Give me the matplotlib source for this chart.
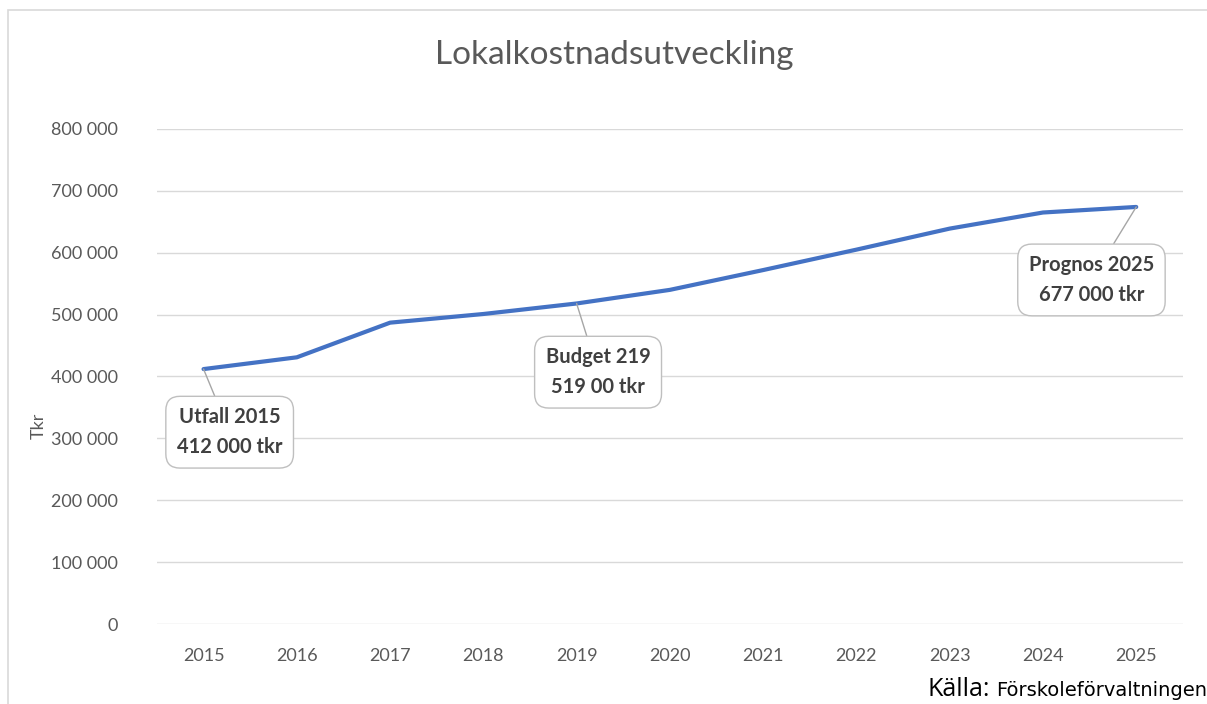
import matplotlib
matplotlib.use('Agg')
import matplotlib.pyplot as plt
from matplotlib.patches import Rectangle
from matplotlib.ticker import FuncFormatter

years = ['2015', '2016', '2017', '2018', '2019', '2020', '2021', '2022', '2023', '2024', '2025']
costs = [412000, 431000, 487000, 501000, 518000, 540000, 572000, 605000, 639000, 665000, 674000]
y_ticks = [0, 100000, 200000, 300000, 400000, 500000, 600000, 700000, 800000]

# callouts: (index of point, text, box centre in data coords)
callouts = [
    (0, 'Utfall 2015\n412 000 tkr', (0.28, 310000)),
    (4, 'Budget 219\n519 00 tkr', (4.23, 407000)),
    (10, 'Prognos 2025\n677 000 tkr', (9.52, 556000)),
]

plt.rcParams['font.family'] = ['Lato', 'DejaVu Sans']
grey = '#595959'

fig = plt.figure(figsize=(12.07, 7.04), dpi=100)
ax = fig.add_axes([0.130, 0.1136, 0.850, 0.7032])

x = list(range(len(years)))
ax.plot(x, costs, color='#4472C4', lw=3.0, solid_capstyle='round', zorder=3)

ax.set_xlim(-0.5, len(years) - 0.5)
ax.set_ylim(0, 800000)
ax.set_xticks(x)
ax.set_xticklabels(years)
ax.set_yticks(y_ticks)
ax.yaxis.set_major_formatter(FuncFormatter(lambda v, p: f'{int(v):,}'.replace(',', ' ')))
ax.tick_params(axis='both', length=0, labelsize=13, labelcolor=grey)
ax.tick_params(axis='x', pad=17)
ax.tick_params(axis='y', pad=28)
ax.grid(axis='y', color='#D9D9D9', lw=1)
ax.set_axisbelow(True)
for s in ax.spines.values():
    s.set_visible(False)

ax.set_ylabel('Tkr', fontsize=13, color=grey)
ax.yaxis.set_label_coords(-0.107, 0.4)

for i, txt, pos in callouts:
    ax.annotate(txt, xy=(x[i], costs[i]), xytext=pos, textcoords='data',
                ha='center', va='center', fontsize=14.5, fontweight='bold',
                color='#404040', linespacing=1.6,
                bbox=dict(boxstyle='round,pad=0.55,rounding_size=0.7',
                          fc='white', ec='#BFBFBF', lw=1),
                arrowprops=dict(arrowstyle='-', color='#A6A6A6', lw=1,
                                shrinkA=0, shrinkB=0),
                zorder=4)

fig.text(0.509, 0.922, 'Lokalkostnadsutveckling', ha='center', va='center',
         fontsize=24, color=grey)

fig.text(927 / 1207, 0.011, 'Källa:', ha='left', va='baseline',
         fontsize=18, color='black', family=['Open Sans', 'DejaVu Sans'])
fig.text(996 / 1207, 0.011, 'Förskoleförvaltningen', ha='left', va='baseline',
         fontsize=14, color='black', family=['DejaVu Sans'])

# chart frame, right and bottom edges run off the picture
fig.patches.append(Rectangle((8 / 1207, -0.2), 1.2, 1.2 - 10 / 704,
                             transform=fig.transFigure, fill=False,
                             ec='#D9D9D9', lw=1.2))

fig.savefig('out.png', dpi=100)
